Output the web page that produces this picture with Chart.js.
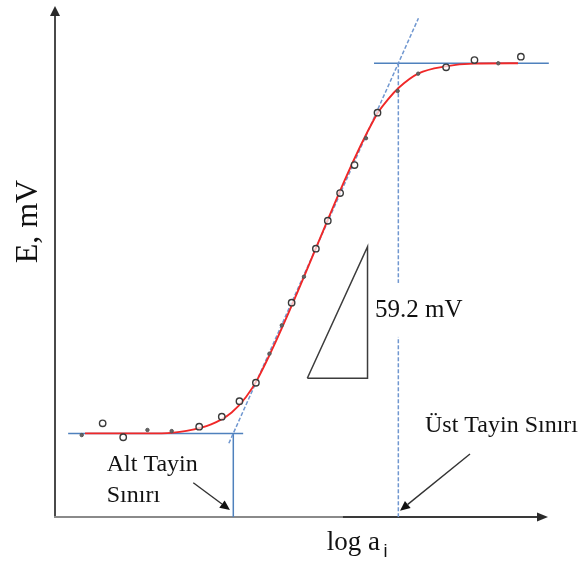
<!DOCTYPE html>
<html>
<head>
<meta charset="utf-8">
<script src="https://cdn.jsdelivr.net/npm/chart.js"></script>
<style>
html,body{margin:0;padding:0;background:#fff;}
#wrap{width:584px;height:565px;position:relative;}
</style>
</head>
<body>
<div id="wrap"><canvas id="c" width="584" height="565"></canvas></div>
<script>
// ---- data (x = log a_i, y = E in mV) ----
const circleX = [-8.84, -8.34, -6.49, -5.94, -5.51, -5.11, -4.24, -3.65, -3.36, -3.06, -2.71, -2.15, -0.48, 0.21, 1.34];
const circleY = [60.5, 51.5, 58.3, 64.8, 74.8, 86.7, 138.4, 173.3, 191.3, 209.2, 227.3, 261.1, 290.4, 295.1, 297.3];
const dotX = [-9.35, -7.75, -7.16, -4.78, -4.48, -3.94, -2.43, -1.66, -1.16, 0.79];
const dotY = [52.9, 56.2, 55.5, 105.5, 123.8, 155.2, 244.6, 275.1, 286.3, 293.0];
const curveX = [-9.27, -7.4, -6.8, -6.2, -5.7, -5.35, -5.05, -2.2, -1.9, -1.62, -1.15, -0.5, 0.2, 1.27];
const curveY = [54.0, 54.0, 55.6, 59.8, 67.5, 77.5, 90.0, 258.5, 269.5, 277.5, 286.5, 291.0, 292.8, 293.0];
const lowerPlateau = 54.0;
const upperPlateau = 293.0;
const lowerLimit = -5.66;
const upperLimit = -1.643;
const lowerLineX = [-9.68, -5.42];
const upperLineX = [-2.235, 2.02];
const slopeLineX = [-5.768, -1.154];
const slopeLineY = [47.6, 322.1];
const triangleX = [-3.859, -2.393, -2.393, -3.859];
const triangleY = [89.6, 89.6, 174.6, 89.6];
const arrowAlt = [[-6.634, 22.15], [-5.741, 4.52]];
const arrowUst = [[0.101, 40.7], [-1.602, 4.07]];
const slopeLabel = '59.2 mV';
const yTitle = 'E, mV';
const xTitle = 'log a';
const xTitleSub = 'i';
const altLabel = ['Alt Tayin', 'Sınırı'];
const ustLabel = 'Üst Tayin Sınırı';
const xRange = [-10, 2];
const yRange = [0, 330];

const zip = (xs, ys) => xs.map((x, i) => ({x: x, y: ys[i]}));
const BLUE = '#4f81bd';
const DASHBLUE = '#7097d0';

const overlay = {
  id: 'overlay',
  beforeDatasetsDraw(chart) {
    const ctx = chart.ctx, xs = chart.scales.x, ys = chart.scales.y;
    const x0 = xs.getPixelForValue(xRange[0]);
    const y0 = ys.getPixelForValue(0);
    const xEnd = xs.getPixelForValue(xRange[1]);
    const yEnd = ys.getPixelForValue(yRange[1]);
    ctx.save();
    ctx.lineWidth = 2;
    // y axis
    ctx.strokeStyle = '#4a4a4a';
    ctx.beginPath(); ctx.moveTo(x0, y0 + 1); ctx.lineTo(x0, yEnd + 8); ctx.stroke();
    ctx.fillStyle = '#2a2a2a';
    ctx.beginPath(); ctx.moveTo(x0, yEnd); ctx.lineTo(x0 - 5, yEnd + 10); ctx.lineTo(x0 + 5, yEnd + 10); ctx.closePath(); ctx.fill();
    // x axis
    const xMid = xs.getPixelForValue(-3.0);
    ctx.strokeStyle = '#8a8a8a';
    ctx.beginPath(); ctx.moveTo(x0 - 1, y0); ctx.lineTo(xMid, y0); ctx.stroke();
    ctx.strokeStyle = '#3a3a3a';
    ctx.beginPath(); ctx.moveTo(xMid, y0); ctx.lineTo(xEnd - 8, y0); ctx.stroke();
    ctx.beginPath(); ctx.moveTo(xEnd, y0); ctx.lineTo(xEnd - 11, y0 - 4.5); ctx.lineTo(xEnd - 11, y0 + 4.5); ctx.closePath(); ctx.fill();
    ctx.restore();
  },
  afterDatasetsDraw(chart) {
    const ctx = chart.ctx, xs = chart.scales.x, ys = chart.scales.y;
    const px = v => xs.getPixelForValue(v), py = v => ys.getPixelForValue(v);
    ctx.save();
    const arrow = (a) => {
      const x1 = px(a[0][0]), y1 = py(a[0][1]), x2 = px(a[1][0]), y2 = py(a[1][1]);
      const ang = Math.atan2(y2 - y1, x2 - x1);
      const L = 10, W = 4.5;
      const bx = x2 - L * Math.cos(ang), by = y2 - L * Math.sin(ang);
      ctx.strokeStyle = '#333'; ctx.lineWidth = 1.4;
      ctx.beginPath(); ctx.moveTo(x1, y1); ctx.lineTo(bx, by); ctx.stroke();
      ctx.fillStyle = '#111';
      ctx.beginPath(); ctx.moveTo(x2, y2);
      ctx.lineTo(bx + W * Math.sin(ang), by - W * Math.cos(ang));
      ctx.lineTo(bx - W * Math.sin(ang), by + W * Math.cos(ang));
      ctx.closePath(); ctx.fill();
    };
    arrow(arrowAlt);
    arrow(arrowUst);

    ctx.fillStyle = '#111';
    ctx.textBaseline = 'alphabetic';
    ctx.textAlign = 'left';
    // slope label with white box
    ctx.font = '25px "Liberation Serif", "Times New Roman", serif';
    const sx = px(-2.211), sy = py(129.2);
    const sw = ctx.measureText(slopeLabel).width;
    ctx.fillStyle = '#fff';
    ctx.fillRect(sx - 4, sy - 34, sw + 10, 54);
    ctx.fillStyle = '#111';
    ctx.fillText(slopeLabel, sx, sy);

    ctx.font = '24px "Liberation Serif", "Times New Roman", serif';
    ctx.fillText(altLabel[0], px(-8.74), py(29.9));
    ctx.fillText(altLabel[1], px(-8.74), py(9.88));
    ctx.fillText(ustLabel, px(-0.994), py(54.9));

    ctx.font = '27px "Liberation Serif", "Times New Roman", serif';
    ctx.fillText(xTitle, px(-3.386), py(-21.3));
    ctx.font = '18px "Liberation Sans", Arial, sans-serif';
    ctx.fillText(xTitleSub, px(-2.004), py(-25.8));

    ctx.font = '32px "Liberation Serif", "Times New Roman", serif';
    ctx.translate(px(-10.633), py(190.8));
    ctx.rotate(-Math.PI / 2);
    ctx.textAlign = 'center';
    ctx.textBaseline = 'middle';
    ctx.fillText(yTitle, 0, 0);
    ctx.restore();
  }
};

const lineDS = (data, color, width, dash) => ({
  data: data, showLine: true, borderColor: color, borderWidth: width,
  borderDash: dash || [], pointRadius: 0, fill: false, clip: false, tension: 0
});

new Chart(document.getElementById('c'), {
  type: 'scatter',
  data: {
    datasets: [
      { data: zip(circleX, circleY), showLine: false, pointStyle: 'circle', pointRadius: 3.2,
        borderColor: '#3a3a3a', borderWidth: 1.4, backgroundColor: 'rgba(255,255,255,0.7)', clip: false },
      { data: zip(dotX, dotY), showLine: false, pointStyle: 'circle', pointRadius: 1.7,
        borderColor: '#555', borderWidth: 1, backgroundColor: '#666', clip: false },
      Object.assign(lineDS(zip(curveX, curveY), '#f02828', 1.9), { cubicInterpolationMode: 'monotone' }),
      lineDS(zip(triangleX, triangleY), '#3c3c3c', 1.5),
      lineDS(zip(slopeLineX, slopeLineY), DASHBLUE, 1.5, [4, 2]),
      lineDS([{x: upperLimit, y: upperPlateau}, {x: upperLimit, y: 0}], DASHBLUE, 1.5, [4, 2]),
      lineDS([{x: lowerLimit, y: lowerPlateau}, {x: lowerLimit, y: 0}], BLUE, 1.5),
      lineDS(zip(lowerLineX, [lowerPlateau, lowerPlateau]), BLUE, 1.5),
      lineDS(zip(upperLineX, [upperPlateau, upperPlateau]), BLUE, 1.5)
    ]
  },
  options: {
    responsive: false,
    devicePixelRatio: 1,
    animation: false,
    layout: { padding: { left: 55, right: 36, top: 6, bottom: 48 } },
    scales: {
      x: { type: 'linear', min: xRange[0], max: xRange[1], display: false },
      y: { type: 'linear', min: yRange[0], max: yRange[1], display: false }
    },
    plugins: { legend: { display: false }, tooltip: { enabled: false } }
  },
  plugins: [overlay]
});
</script>
</body>
</html>
